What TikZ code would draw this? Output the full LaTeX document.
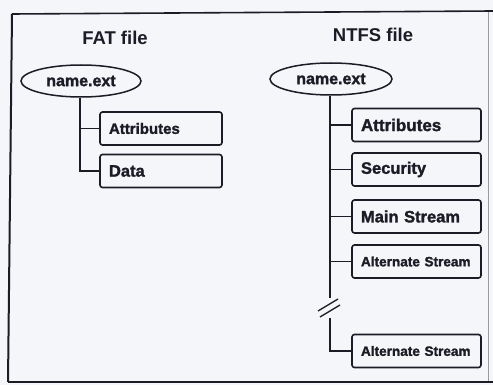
\documentclass[tikz,border=0pt]{standalone}
\usepackage{fontspec}
\setmainfont{Liberation Sans}
\newfontfamily\heavyfont{Liberation Sans}[BoldFeatures={FakeBold=1.6}]
\usetikzlibrary{shapes.geometric}
\definecolor{paper}{RGB}{244,246,250}
\definecolor{ink}{RGB}{28,28,38}
\newcommand\sz[1]{\fontsize{#1}{#1}\selectfont\bfseries}
\newcommand\hsz[1]{\heavyfont\fontsize{#1}{#1}\selectfont\bfseries}
\tikzset{
  title/.style={text=ink, font=\sz{18.5}},
  fileell/.style={ellipse, draw=ink, line width=1.5pt, minimum width=120pt,
    minimum height=32pt, inner sep=0pt, text=ink, font=\hsz{16}},
  partbox/.style={rectangle, rounded corners=2.5pt, draw=ink, line width=1.6pt,
    minimum height=33pt, inner xsep=9pt, inner ysep=0pt, align=left, text=ink},
  fatbox/.style={partbox, text width=104pt},
  ntfsbox/.style={partbox, text width=111pt},
  link/.style={draw=ink, line width=1.5pt},
}
\begin{document}
\begin{tikzpicture}[x=1pt,y=-1pt]
  \fill[paper] (0,0) rectangle (493,385);
  \useasboundingbox (0,0) rectangle (493,385);
  % outer frame
  \draw[ink, line width=1.6pt] (12,14) -- (493,11);
  \draw[ink, line width=2pt] (12,14) -- (8,382);
  \draw[ink, line width=2.6pt] (8,382) -- (493,382);
  \draw[ink!45, line width=0.6pt] (488,12) -- (488,381);

  % FAT side
  \node[title] (fattitle) at (115,38) {FAT file};
  \node[fileell] (fname) at (81,81) {name.ext};
  \node[fatbox, font=\hsz{15}] (fattr) at (161,128.5) {Attributes};
  \node[fatbox, font=\hsz{16.5}] (fdata) at (161,171) {Data};
  \draw[link] (fname.south -| 80,0) -- (80,0 |- fdata.west) -- (fdata.west);
  \draw[link] (80,0 |- fattr.west) -- (fattr.west);

  % NTFS side
  \node[title] (ntfstitle) at (373,35) {NTFS file};
  \node[fileell, minimum width=122pt] (nname) at (331,79) {name.ext};
  \node[ntfsbox, font=\hsz{17}] (nattr) at (416.5,125) {Attributes};
  \node[ntfsbox, font=\hsz{16.5}] (nsec) at (416.5,169.5) {Security};
  \node[ntfsbox, font=\hsz{16.5}] (nmain) at (416.5,216.5) {Main Stream};
  \node[ntfsbox, font=\hsz{13.6}] (nalt) at (416.5,261.5) {Alternate Stream};
  \node[ntfsbox, font=\hsz{13.6}] (nalt2) at (416.5,351) {Alternate Stream};

  \coordinate (brkA) at (330,298);
  \coordinate (brkB) at (330,318);
  \draw[link] (nname.south -| brkA) -- (brkA);
  \draw[link] (brkB) -- (brkB |- nalt2.west) -- (nalt2.west);
  \foreach \n in {nattr,nsec,nmain,nalt}
    \draw[link] (brkA |- \n.west) -- (\n.west);
  % break marks on the trunk
  \draw[link, line width=1.3pt] (318,311) -- (338,299);
  \draw[link, line width=1.3pt] (320,317) -- (340,305);
\end{tikzpicture}
\end{document}
